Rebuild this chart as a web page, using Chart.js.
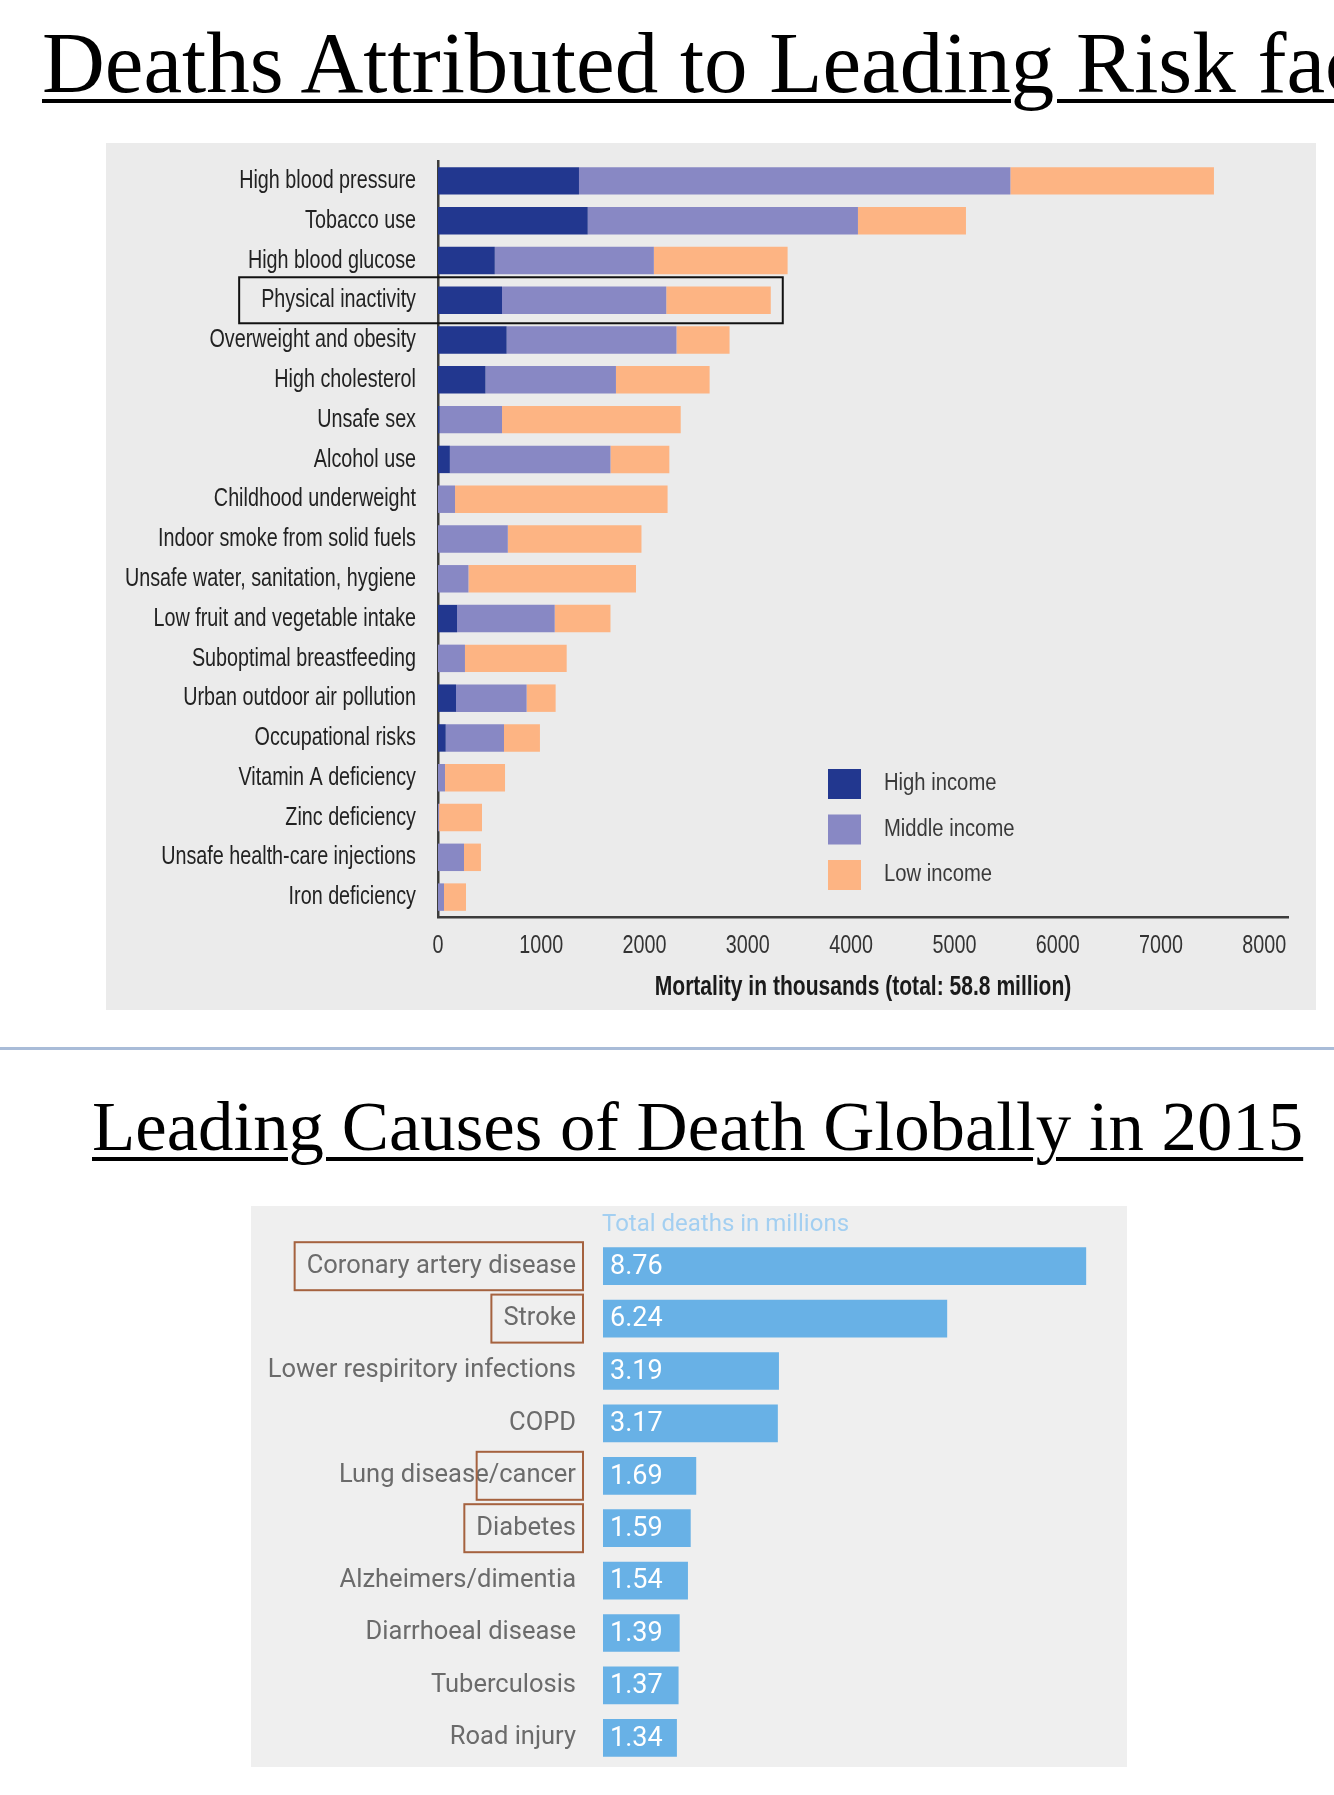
<!DOCTYPE html>
<html>
<head>
<meta charset="utf-8">
<script src="https://cdn.jsdelivr.net/npm/chart.js@4.4.1/dist/chart.umd.min.js"></script>
<style>
  html, body { margin: 0; padding: 0; background: #fff; }
  body { position: relative; width: 1334px; height: 1795px; overflow: hidden; }
  .title {
    position: absolute; white-space: nowrap; color: #000;
    font-family: 'Liberation Serif', 'Times New Roman', serif; line-height: 1;
    text-decoration: underline; text-decoration-thickness: 4px; text-underline-offset: 7px;
  }
  #t1 { left: 42px; top: 19px; font-size: 87px; }
  #t2 { left: 92px; top: 1091px; font-size: 70.8px; }
  #sep { position: absolute; left: 0; top: 1047px; width: 1334px; height: 3px; background: #a9bcd8; }
  .panel { position: absolute; }
  #risk-wrap { left: 106px; top: 143px; width: 1210px; height: 867px; background: #ebebeb; }
  #cause-wrap { left: 251px; top: 1206px; width: 876px; height: 561px; background: #efefef; }
</style>
</head>
<body>
<div class="title" id="t1">Deaths Attributed to Leading Risk factors</div>
<div class="panel" id="risk-wrap"><canvas id="risk-chart"></canvas></div>
<div id="sep"></div>
<div class="title" id="t2">Leading Causes of Death Globally in 2015</div>
<div class="panel" id="cause-wrap"><canvas id="cause-chart"></canvas></div>

<script>
// --- chart 1: deaths by risk factor, thousands, split by country income group
const RISKS = [
  'High blood pressure', 'Tobacco use', 'High blood glucose', 'Physical inactivity',
  'Overweight and obesity', 'High cholesterol', 'Unsafe sex', 'Alcohol use',
  'Childhood underweight', 'Indoor smoke from solid fuels', 'Unsafe water, sanitation, hygiene',
  'Low fruit and vegetable intake', 'Suboptimal breastfeeding', 'Urban outdoor air pollution',
  'Occupational risks', 'Vitamin A deficiency', 'Zinc deficiency',
  'Unsafe health-care injections', 'Iron deficiency'
];
const HIGH_INCOME   = [1365, 1450, 550, 620, 665, 460, 15, 115, 0, 0, 0, 185, 0, 175, 75, 0, 0, 0, 0];
const MIDDLE_INCOME = [4177, 2616, 1540, 1590, 1644, 1263, 605, 1555, 165, 676, 295, 945, 261, 683, 564, 68, 10, 252, 58];
const LOW_INCOME    = [1971, 1046, 1295, 1012, 514, 907, 1730, 570, 2058, 1294, 1622, 540, 985, 281, 348, 581, 416, 164, 213];
const INCOME_GROUPS = ['High income', 'Middle income', 'Low income'];
const MORTALITY_TICKS = [0, 1000, 2000, 3000, 4000, 5000, 6000, 7000, 8000];
const RISK_AXIS_TITLE = 'Mortality in thousands (total: 58.8 million)';
const BOXED_RISK = 'Physical inactivity';

// --- chart 2: leading causes of death 2015, millions
const CAUSES = [
  'Coronary artery disease', 'Stroke', 'Lower respiritory infections', 'COPD',
  'Lung disease/cancer', 'Diabetes', 'Alzheimers/dimentia', 'Diarrhoeal disease',
  'Tuberculosis', 'Road injury'
];
const DEATHS = [8.76, 6.24, 3.19, 3.17, 1.69, 1.59, 1.54, 1.39, 1.37, 1.34];
const CAUSE_HEADER = 'Total deaths in millions';
// label text (or part of it) framed in brown
const BOXED_CAUSES = [
  { cause: 'Coronary artery disease', part: 'Coronary artery disease' },
  { cause: 'Stroke', part: 'Stroke' },
  { cause: 'Lung disease/cancer', part: '/cancer' },
  { cause: 'Diabetes', part: 'Diabetes' },
];

const SANS = "'Liberation Sans', Arial, sans-serif";
const COLORS = ['#22378f', '#8888c4', '#fdb483'];

// no condensed font installed: squeeze Liberation Sans horizontally
function setFont(ctx, size, weight) {
  ctx.font = `${weight || 'normal'} ${size}px ${SANS}`;
}
function narrowText(ctx, text, x, y, sx, align) {
  ctx.save();
  ctx.textAlign = align;
  ctx.textBaseline = 'middle';
  ctx.translate(x, y);
  ctx.scale(sx, 1);
  ctx.fillText(text, 0, 0);
  ctx.restore();
}

const riskText = {
  id: 'riskText',
  afterDraw(chart) {
    const { ctx, chartArea, scales } = chart;
    ctx.save();
    // category labels
    setFont(ctx, 26);
    ctx.fillStyle = '#222';
    chart.data.labels.forEach((lab, i) => {
      narrowText(ctx, lab, chartArea.left - 22, scales.y.getPixelForValue(i), 0.76, 'right');
    });
    // value ticks
    ctx.fillStyle = '#333';
    scales.x.ticks.forEach(t => {
      narrowText(ctx, String(t.value), scales.x.getPixelForValue(t.value), chartArea.bottom + 29, 0.76, 'center');
    });
    // axis title
    setFont(ctx, 27, 'bold');
    ctx.fillStyle = '#1a1a1a';
    narrowText(ctx, RISK_AXIS_TITLE, (chartArea.left + chartArea.right) / 2, chartArea.bottom + 71, 0.78, 'center');

    // legend, lower right of plot
    setFont(ctx, 23);
    const x0 = chartArea.left + 390;
    chart.data.datasets.forEach((ds, i) => {
      const cy = chartArea.bottom - 133 + i * 45.5;
      ctx.fillStyle = ds.backgroundColor;
      ctx.fillRect(x0, cy - 15, 33, 30);
      ctx.fillStyle = '#3a3a3a';
      narrowText(ctx, ds.label, x0 + 56, cy, 0.88, 'left');
    });

    // frame around the physical inactivity row
    const i = RISKS.indexOf(BOXED_RISK);
    const y = scales.y.getPixelForValue(i);
    const total = HIGH_INCOME[i] + MIDDLE_INCOME[i] + LOW_INCOME[i];
    setFont(ctx, 26);
    const w = ctx.measureText(BOXED_RISK).width * 0.76;
    const xl = chartArea.left - 22 - w - 22;
    const xr = scales.x.getPixelForValue(total) + 12;
    ctx.strokeStyle = '#111';
    ctx.lineWidth = 2;
    ctx.strokeRect(xl, y - 23, xr - xl, 46);
    ctx.restore();
  }
};

new Chart(document.getElementById('risk-chart'), {
  type: 'bar',
  data: {
    labels: RISKS,
    datasets: [HIGH_INCOME, MIDDLE_INCOME, LOW_INCOME].map((d, i) => ({
      label: INCOME_GROUPS[i],
      data: d,
      backgroundColor: COLORS[i],
      borderWidth: 0,
      barPercentage: 0.69,
      categoryPercentage: 1,
    })),
  },
  options: {
    indexAxis: 'y',
    animation: false,
    responsive: true,
    maintainAspectRatio: false,
    layout: { padding: { top: 18, right: 28, left: 0, bottom: 0 } },
    plugins: { legend: { display: false }, tooltip: { enabled: false } },
    scales: {
      x: {
        stacked: true,
        min: 0,
        max: 8230,
        afterBuildTicks: s => { s.ticks = MORTALITY_TICKS.map(v => ({ value: v })); },
        afterFit: s => { s.height = 93; },
        grid: { display: false, drawTicks: false },
        border: { display: true, color: '#3c3c3c', width: 2.5 },
        ticks: { display: false },
      },
      y: {
        stacked: true,
        afterFit: s => { s.width = 332; },
        grid: { display: false, drawTicks: false },
        border: { display: true, color: '#3c3c3c', width: 2.5 },
        ticks: { display: false },
      },
    },
  },
  plugins: [riskText],
});

// labels, values inside the bars, header text, brown frames
const causeDecor = {
  id: 'causeDecor',
  afterDatasetsDraw(chart) {
    const { ctx, chartArea, scales } = chart;
    const bars = chart.getDatasetMeta(0).data;
    const labelRight = chartArea.left - 27;
    ctx.save();
    ctx.textBaseline = 'middle';

    ctx.font = '25.5px Roboto';
    ctx.fillStyle = '#6b6b6b';
    ctx.textAlign = 'right';
    chart.data.labels.forEach((lab, i) => ctx.fillText(lab, labelRight, scales.y.getPixelForValue(i)));

    ctx.textAlign = 'left';
    ctx.font = '27px Roboto';
    ctx.fillStyle = '#fff';
    bars.forEach((b, i) => ctx.fillText(DEATHS[i].toFixed(2), b.base + 7, b.y + 1));

    ctx.font = '24px Roboto';
    ctx.fillStyle = '#a3cff1';
    ctx.fillText(CAUSE_HEADER, chartArea.left - 1, chartArea.top - 15);

    ctx.font = '25.5px Roboto';
    ctx.strokeStyle = '#a5623f';
    ctx.lineWidth = 2;
    const right = chartArea.left - 20;
    BOXED_CAUSES.forEach(h => {
      const y = scales.y.getPixelForValue(CAUSES.indexOf(h.cause));
      const w = ctx.measureText(h.part).width;
      const left = labelRight - w - 12;
      ctx.strokeRect(left, y - 24, right - left, 48);
    });
    ctx.restore();
  }
};

new Chart(document.getElementById('cause-chart'), {
  type: 'bar',
  data: {
    labels: CAUSES,
    datasets: [{
      data: DEATHS,
      backgroundColor: '#68b1e6',
      borderWidth: 0,
      barPercentage: 0.72,
      categoryPercentage: 1,
    }],
  },
  options: {
    indexAxis: 'y',
    animation: false,
    responsive: true,
    maintainAspectRatio: false,
    layout: { padding: { top: 34, right: 0, left: 0, bottom: 3 } },
    plugins: { legend: { display: false }, tooltip: { enabled: false } },
    scales: {
      x: { display: false, min: 0, max: 9.5 },
      y: {
        afterFit: s => { s.width = 352; },
        grid: { display: false, drawTicks: false },
        border: { display: false },
        ticks: { display: false },
      },
    },
  },
  plugins: [causeDecor],
});
</script>
</body>
</html>
